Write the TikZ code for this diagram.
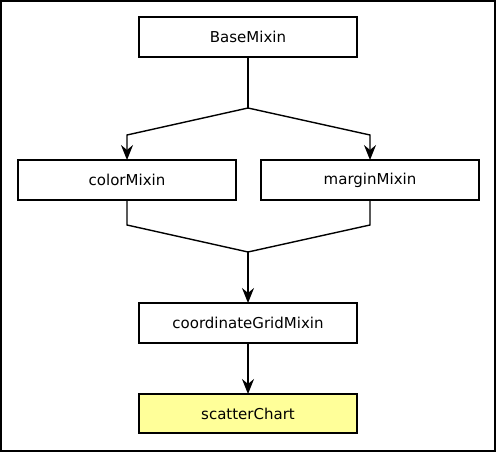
\documentclass[tikz,border=0pt]{standalone}
\usepackage{fontspec}
\setmainfont{DejaVu Sans}
\usetikzlibrary{arrows.meta}

\begin{document}
\begin{tikzpicture}[x=1pt,y=-1pt]
\def\linecol{black}
\definecolor{chartcol}{HTML}{FFFF99}

\tikzset{every path/.style={line width=1.4pt}}
\tikzset{every node/.style={font=\fontsize{15}{18}\selectfont, rectangle, draw=\linecol, line width=1.1pt, inner sep=2pt, outer sep=0pt, minimum width=218pt, minimum height=40pt}}
\tikzset{flow/.style={-{Stealth[length=15pt,width=12pt,inset=5pt]}, draw=\linecol}}
%%%%%% frame
\useasboundingbox (0,0) rectangle (496,452);
\draw[line width=2pt] (1,1) rectangle (495,451);

%%%%%% mixins
\node(base)at(248,37){BaseMixin};
\node(color)at(127,180){colorMixin};
\node(margin)at(370,180){marginMixin};
\node(grid)at(248,323){coordinateGridMixin};
\node(scatter)at(248,413.5)[fill=chartcol,minimum height=39pt]{scatterChart};

%%%%%% bends
\coordinate(split)at(248,108);
\coordinate(lsplit)at(127,135);
\coordinate(rsplit)at(370,135);
\coordinate(lmerge)at(127,225);
\coordinate(rmerge)at(370,225);
\coordinate(merge)at(248,252);

%%%%%%
\draw (base.south) -- (split);
\draw[flow] (split) -- (lsplit) -- (color.north);
\draw[flow] (split) -- (rsplit) -- (margin.north);
\draw (color.south) -- (lmerge) -- (merge);
\draw (margin.south) -- (rmerge) -- (merge);
\draw[flow] (merge) -- (grid.north);
\draw[flow] (grid.south) -- (scatter.north);
\end{tikzpicture}
\end{document}
